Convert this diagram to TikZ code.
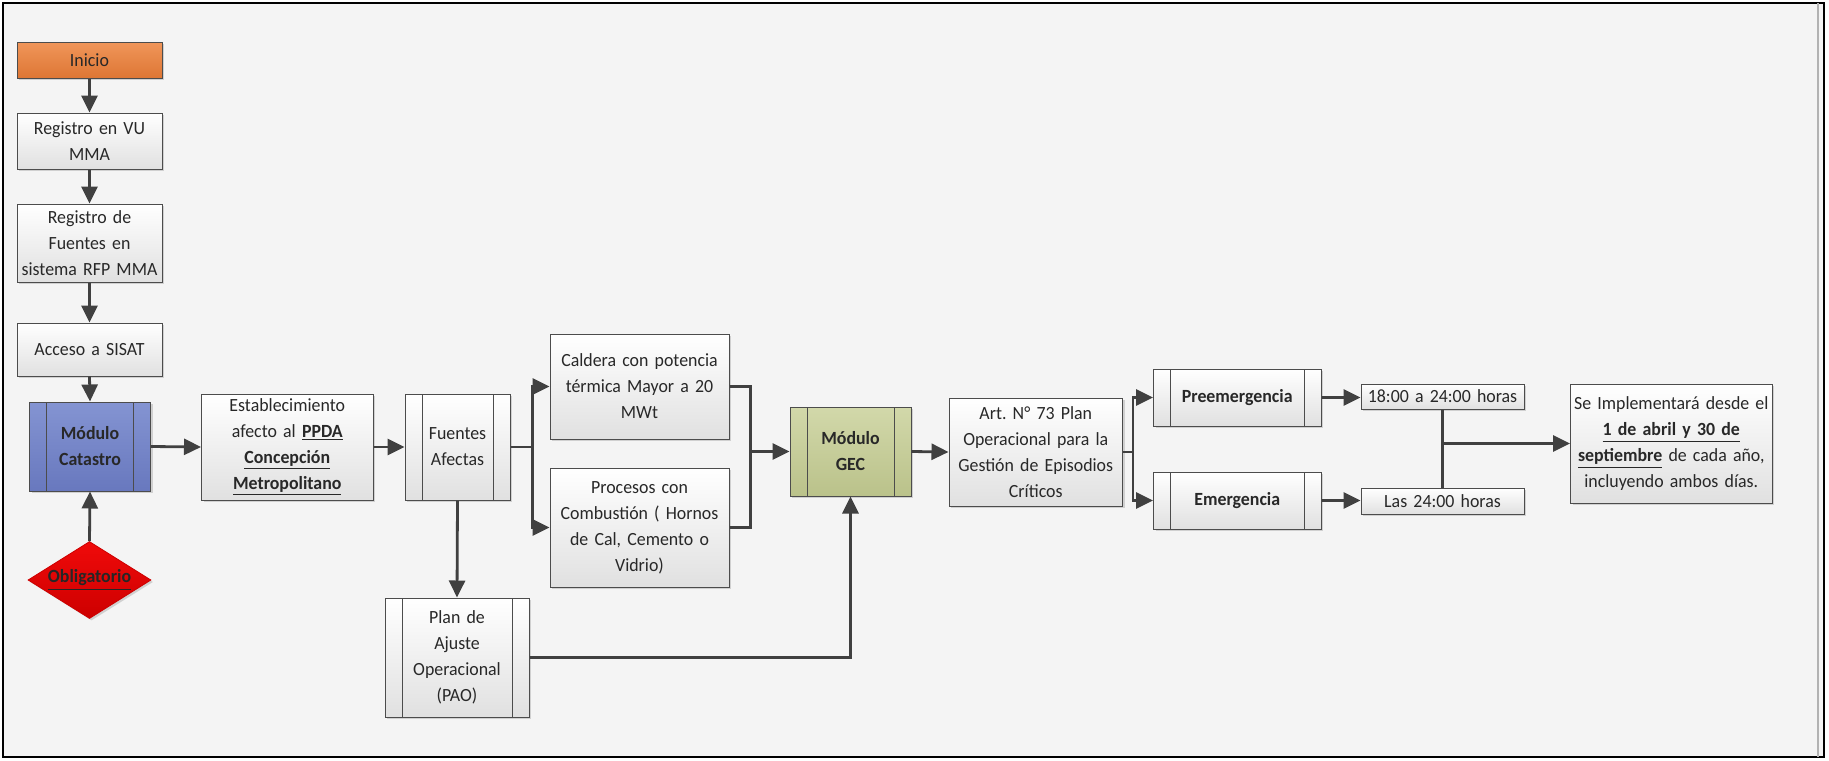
\documentclass[tikz,border=0pt]{standalone}
\usepackage{fontspec}
\setmainfont{Carlito}[FakeStretch=0.96]
\usetikzlibrary{arrows.meta,shapes.geometric,shadows,calc}
\definecolor{bg}{RGB}{244,244,244}
\definecolor{orgtop}{RGB}{240,150,90}
\definecolor{orgbot}{RGB}{222,118,52}
\definecolor{blutop}{RGB}{132,148,210}
\definecolor{blubot}{RGB}{104,120,190}
\definecolor{olvtop}{RGB}{210,216,170}
\definecolor{olvbot}{RGB}{186,194,138}
\definecolor{redtop}{RGB}{240,10,10}
\definecolor{redbot}{RGB}{205,0,0}
\definecolor{ink}{RGB}{40,40,40}
\tikzset{
  bx/.code n args={4}{%
    \pgfmathsetmacro\bxw{(#3-#1)*0.5}%
    \pgfmathsetmacro\bxh{(#4-#2)*0.5}%
    \pgfmathsetmacro\bxx{(#1+#3)/2}%
    \pgfmathsetmacro\bxy{(#2+#4)/2}%
    \pgfmathsetmacro\bxt{\bxw-1}%
    \edef\bxtmp{\noexpand\pgfkeysalso{at={(\bxx,\bxy)},minimum width=\bxw pt,minimum height=\bxh pt,text width=\bxt pt}}%
    \bxtmp},
  base/.style={rectangle, draw=black!70, line width=0.5pt, inner sep=0pt, align=center,
    font=\fontsize{9.3}{13}\selectfont, text=ink,
    drop shadow={shadow xshift=1pt, shadow yshift=-1pt, opacity=0.3}},
  wbox/.style={base, top color=white, bottom color=black!12},
  orbox/.style={base, top color=orgtop, bottom color=orgbot},
  blbox/.style={base, top color=blutop, bottom color=blubot},
  olbox/.style={base, top color=olvtop, bottom color=olvbot},
  pp/.style={path picture={
    \draw[black!70,line width=0.5pt] ([xshift=8.5pt]path picture bounding box.north west) -- ([xshift=8.5pt]path picture bounding box.south west);
    \draw[black!70,line width=0.5pt] ([xshift=-8.5pt]path picture bounding box.north east) -- ([xshift=-8.5pt]path picture bounding box.south east);}},
  ln/.style={draw=black!75, line width=1.4pt},
  arr/.style={ln, -{Triangle[length=8.5pt,width=8pt]}},
}
\begin{document}
\frenchspacing
\begin{tikzpicture}[x=0.5pt,y=-0.5pt]
\useasboundingbox (0,0) rectangle (1829,760);
\draw[fill=bg, line width=1pt] (3,3) rectangle (1824,757);
\draw[black!30, line width=0.6pt] (1818,3) -- (1818,757);

% left column
\node[orbox, bx={17}{42}{162}{78}] (inicio) {Inicio};
\node[wbox, bx={17}{113}{162}{169}] (regvu) {Registro en VU\\MMA};
\node[wbox, bx={17}{204}{162}{282}] (regf) {Registro de\\Fuentes en\\sistema RFP MMA};
\node[wbox, bx={17}{323}{162}{376}] (acc) {Acceso a SISAT};
\node[blbox, pp, bx={29.5}{402}{150.5}{491}] (cat) {\textbf{Módulo}\\\textbf{Catastro}};
\node[diamond, draw=redbot, top color=redtop, bottom color=redbot, inner sep=0pt,
      minimum width=61.5pt, minimum height=38.5pt, aspect=1.6,
      font=\fontsize{9.3}{13}\selectfont\bfseries, text=black!85,
      drop shadow={shadow xshift=1pt, shadow yshift=-1pt, opacity=0.3}]
      (obl) at (89.5,580) {\underline{Obligatorio}};

% middle
\node[wbox, bx={201.5}{394}{373}{500}] (est) {Establecimiento\\afecto al \textbf{\underline{PPDA}}\\\textbf{\underline{Concepción}}\\\textbf{\underline{Metropolitano}}};
\node[wbox, pp, bx={405}{394}{510}{500}] (fa) {Fuentes\\Afectas};
\node[wbox, pp, bx={385}{598}{529}{717}] (plan) {Plan de\\Ajuste\\Operacional\\(PAO)};
\node[wbox, bx={550}{334}{729}{439}] (cal) {Caldera con potencia\\térmica Mayor a 20\\MWt};
\node[wbox, bx={550}{468}{729}{587}] (proc) {Procesos con\\Combustión ( Hornos\\de Cal, Cemento o\\Vidrio)};
\node[olbox, pp, bx={790}{407}{911}{496}] (gec) {\textbf{Módulo}\\\textbf{GEC}};
\node[wbox, bx={949}{398}{1122.5}{506}] (art) {Art. N° 73 Plan\\Operacional para la\\Gestión de Episodios\\Críticos};

% right
\node[wbox, pp, bx={1153.5}{369}{1321}{426}] (pre) {\textbf{Preemergencia}};
\node[wbox, pp, bx={1153.5}{472}{1321}{529}] (emer) {\textbf{Emergencia}};
\node[wbox, bx={1361}{384}{1524}{409}] (t18) {18:00 a 24:00 horas};
\node[wbox, bx={1361}{488}{1524}{514}] (t24) {Las 24:00 horas};
\node[wbox, bx={1570.5}{384}{1772}{503}] (se) {Se Implementará desde el\\\textbf{\underline{1 de abril y 30 de}}\\\textbf{\underline{septiembre}} de cada año,\\incluyendo ambos días.};

% connectors
\draw[arr] (inicio.south) -- (regvu.north);
\draw[arr] (regvu.south) -- (regf.north);
\draw[arr] (regf.south) -- (acc.north);
\draw[arr] (acc.south) -- (cat.north);
\draw[arr] (obl.north) -- (cat.south);
\draw[arr] (cat.east) -- (est.west);
\draw[arr] (est.east) -- (fa.west);
\draw[arr] (fa.east) -- ++(22,0) |- (cal.west);
\draw[arr] (fa.east) -- ++(22,0) |- (proc.west);
\coordinate (mx) at ([xshift=-19.5pt]gec.west);
\draw[ln] (cal.east) -| (mx);
\draw[ln] (proc.east) -| (mx);
\draw[arr] (mx) -- (gec.west);
\draw[arr] (fa.south) -- (plan.north);
\draw[arr] (plan.east) -| (gec.south);
\draw[arr] (gec.east) -- (art.west);
\draw[arr] (art.east) -- ++(10,0) |- (pre.west);
\draw[arr] (art.east) -- ++(10,0) |- (emer.west);
\draw[arr] (pre.east) -- (pre.east -| t18.west);
\draw[arr] (emer.east) -- (emer.east -| t24.west);
\draw[ln] (t18.south) -- (t24.north);
\draw[arr] (t18.south |- se.west) -- (se.west);
\end{tikzpicture}
\end{document}
